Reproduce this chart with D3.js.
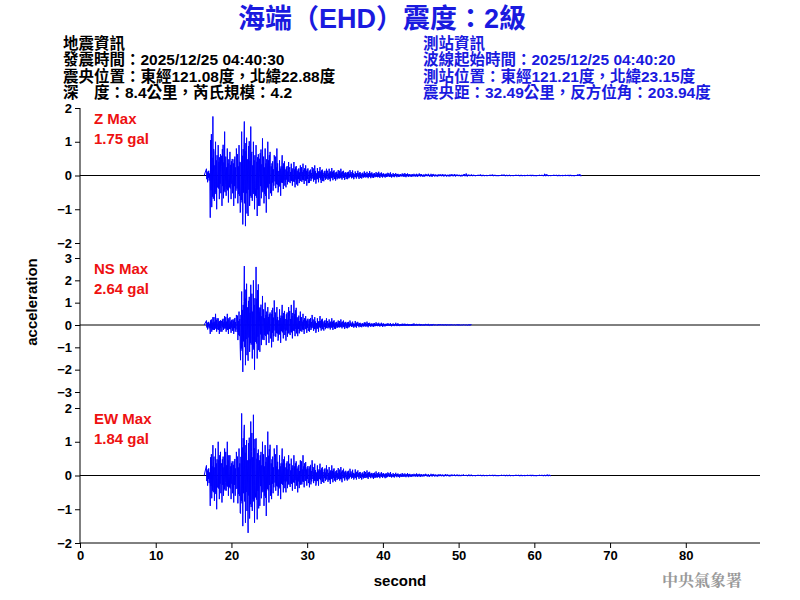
<!DOCTYPE html>
<html>
<head>
<meta charset="utf-8">
<script src="https://cdn.jsdelivr.net/npm/d3@7"></script>
<style>
  body { margin: 0; background: #fff; }
  text { font-family: Arial, "Liberation Sans", "Noto Sans CJK TC", sans-serif; }
</style>
</head>
<body>
<svg id="chart" width="800" height="600"></svg>
<script>
// peaks per 0.5 s bin, starting at t0 (seconds)
const t0 = 16.7
const binStep = 0.5

const zHi = [0.2,1.75,1.0,0.9,1.3,0.8,0.7,0.8,0.9,1.3,1.6,1.45,1.0,0.9,1.1,0.8,1.0,0.6,0.8,0.45,0.6,0.4,0.35,0.4,0.3,0.35,0.3,0.25,0.3,0.22,0.25,0.2,0.2,0.22,0.16,0.2,0.14,0.16,0.15,0.12,0.14,0.12,0.11,0.13,0.1,0.11,0.09,0.08,0.09,0.07,0.07,0.06,0.07,0.06,0.05,0.05,0.06,0.04,0.05,0.05,0.04,0.04,0.04,0.03,0.04,0.04,0.03,0.03,0.06,0.03,0.03,0.02,0.03,0.02,0.02,0.03,0.02,0.02,0.03,0.02,0.02,0.02,0.02,0.02,0.02,0.02,0.02,0.02,0.02,0.05,0.02,0.02,0.02,0.02,0.02,0.02,0.02,0.02,0.04]
const zLo = [-0.2,-1.25,-1.0,-0.7,-0.9,-0.8,-0.7,-0.9,-1.1,-1.45,-1.5,-1.2,-1.0,-1.2,-0.9,-1.1,-0.7,-0.6,-0.5,-0.6,-0.4,-0.35,-0.3,-0.35,-0.3,-0.25,-0.3,-0.22,-0.24,-0.2,-0.22,-0.17,-0.17,-0.14,-0.15,-0.12,-0.13,-0.11,-0.11,-0.09,-0.1,-0.09,-0.08,-0.08,-0.07,-0.07,-0.06,-0.06,-0.06,-0.05,-0.05,-0.04,-0.05,-0.04,-0.04,-0.04,-0.03,-0.04,-0.03,-0.04,-0.03,-0.03,-0.03,-0.03,-0.03,-0.03,-0.02,-0.03,-0.03,-0.02,-0.02,-0.02,-0.02,-0.02,-0.02,-0.02,-0.02,-0.02,-0.02,-0.02,-0.02,-0.02,-0.02,-0.02,-0.02,-0.02,-0.02,-0.02,-0.02,-0.02,-0.02,-0.02,-0.02,-0.02,-0.02,-0.02,-0.02,-0.02,-0.02]

const nsHi = [0.2,0.35,0.5,0.3,0.4,0.5,0.35,0.45,0.6,1.5,2.64,1.8,2.0,2.6,1.3,1.0,0.8,1.1,0.8,0.7,0.9,0.8,0.9,1.1,0.6,0.5,0.4,0.45,0.35,0.3,0.4,0.3,0.25,0.3,0.2,0.25,0.2,0.2,0.15,0.18,0.14,0.12,0.15,0.1,0.12,0.1,0.1,0.08,0.08,0.07,0.1,0.06,0.06,0.05,0.07,0.05,0.05,0.04,0.05,0.04,0.03,0.04,0.03,0.03,0.03,0.02,0.03,0.02,0.02,0.03]
const nsLo = [-0.2,-0.4,-0.3,-0.4,-0.3,-0.4,-0.35,-0.4,-0.9,-2.1,-1.8,-1.6,-2.0,-1.5,-1.2,-0.9,-0.8,-1.0,-0.7,-0.8,-0.6,-0.7,-0.6,-0.5,-0.5,-0.4,-0.35,-0.3,-0.35,-0.3,-0.25,-0.25,-0.2,-0.22,-0.18,-0.15,-0.18,-0.15,-0.12,-0.12,-0.1,-0.1,-0.1,-0.08,-0.08,-0.07,-0.08,-0.06,-0.06,-0.05,-0.05,-0.05,-0.04,-0.04,-0.04,-0.03,-0.03,-0.03,-0.03,-0.03,-0.02,-0.02,-0.02,-0.02,-0.02,-0.02,-0.02,-0.02,-0.02,-0.02]

const ewHi = [0.3,0.9,0.8,1.0,0.8,1.0,0.6,0.7,0.8,1.84,1.5,1.6,1.8,1.1,1.0,0.9,1.3,0.8,0.9,0.6,0.8,0.6,0.5,0.6,0.45,0.6,0.4,0.45,0.35,0.3,0.35,0.3,0.25,0.3,0.22,0.25,0.2,0.2,0.17,0.18,0.15,0.13,0.15,0.11,0.12,0.1,0.1,0.09,0.1,0.07,0.08,0.07,0.06,0.07,0.05,0.06,0.05,0.05,0.04,0.05,0.04,0.04,0.03,0.04,0.03,0.03,0.03,0.03,0.02,0.03,0.02,0.02,0.02,0.02,0.02,0.02,0.02,0.02,0.02,0.02,0.02,0.02,0.02,0.02,0.02,0.02,0.02,0.02,0.02,0.02,0.03]
const ewLo = [-0.3,-0.9,-1.0,-0.7,-0.8,-0.6,-0.7,-0.8,-1.1,-1.5,-1.4,-1.7,-1.4,-1.3,-0.9,-1.2,-0.8,-0.7,-0.6,-0.7,-0.5,-0.5,-0.45,-0.4,-0.5,-0.35,-0.3,-0.35,-0.3,-0.3,-0.25,-0.22,-0.25,-0.2,-0.18,-0.2,-0.15,-0.15,-0.12,-0.12,-0.1,-0.12,-0.1,-0.08,-0.1,-0.08,-0.07,-0.08,-0.06,-0.06,-0.05,-0.06,-0.05,-0.05,-0.04,-0.04,-0.04,-0.03,-0.04,-0.03,-0.03,-0.03,-0.03,-0.02,-0.03,-0.02,-0.02,-0.02,-0.02,-0.02,-0.02,-0.02,-0.02,-0.02,-0.02,-0.02,-0.02,-0.02,-0.02,-0.02,-0.02,-0.02,-0.02,-0.02,-0.02,-0.02,-0.02,-0.02,-0.02,-0.02,-0.02]

// fixed texture of swings inside one bin (fractions of the bin's peak)
const swing = [1, -0.55, 0.45, -1, 0.6, -0.35, 0.7, -0.75, 0.3, -0.5]

const channels = [
  { name: 'Z', max: '1.75 gal', hi: zHi, lo: zLo, lim: 2, top: 108, bottom: 243 },
  { name: 'NS', max: '2.64 gal', hi: nsHi, lo: nsLo, lim: 3, top: 258, bottom: 392 },
  { name: 'EW', max: '1.84 gal', hi: ewHi, lo: ewLo, lim: 2, top: 408, bottom: 543 }
]
const xTicks = [0, 10, 20, 30, 40, 50, 60, 70, 80]
const tMax = 89.8

const quakeInfo = ['地震資訊', '發震時間：2025/12/25 04:40:30', '震央位置：東經121.08度，北緯22.88度', '深　度：8.4公里，芮氏規模：4.2']
const stationInfo = ['測站資訊', '波線起始時間：2025/12/25 04:40:20', '測站位置：東經121.21度，北緯23.15度', '震央距：32.49公里，反方位角：203.94度']

const svg = d3.select('#chart')
const left = 80, right = 760

const x = d3.scaleLinear().domain([0, tMax]).range([left, right])

// title
svg.append('text')
  .attr('x', 382).attr('y', 28)
  .attr('text-anchor', 'middle')
  .attr('fill', '#1a1adf')
  .style('font-size', '27px').style('font-weight', 'bold')
  .text('海端（EHD）震度：2級')

quakeInfo.forEach((s, i) => {
  svg.append('text').attr('x', 63).attr('y', 49 + i * 16.3)
    .style('font-size', '15.5px').style('font-weight', 'bold')
    .attr('fill', '#000').text(s)
})
stationInfo.forEach((s, i) => {
  svg.append('text').attr('x', 423).attr('y', 49 + i * 16.3)
    .style('font-size', '15.5px').style('font-weight', 'bold')
    .attr('fill', '#1a1adf').text(s)
})

// left axis line
svg.append('line').attr('x1', left).attr('x2', left).attr('y1', 108).attr('y2', 543)
  .attr('stroke', '#000')

channels.forEach(ch => {
  const y = d3.scaleLinear().domain([-ch.lim, ch.lim]).range([ch.bottom, ch.top])

  const ticks = d3.range(-ch.lim, ch.lim + 1)
  const g = svg.append('g').attr('transform', `translate(${left},0)`)
    .call(d3.axisLeft(y).tickValues(ticks).tickSize(5).tickFormat(d3.format('d')))
  g.select('.domain').remove()
  g.selectAll('text').style('font-size', '13px').style('font-weight', 'bold').attr('fill', '#000')

  // zero line
  svg.append('line').attr('x1', left).attr('x2', right)
    .attr('y1', y(0)).attr('y2', y(0)).attr('stroke', '#000').attr('stroke-width', 1)

  // trace: bin peaks with a fixed swing texture
  const pts = [[t0 - 0.3, 0]]
  ch.hi.forEach((h, i) => {
    const lo = ch.lo[i] !== undefined ? ch.lo[i] : -h
    const off = (i * 3) % swing.length
    for (let k = 0; k < swing.length; k++) {
      const s = swing[(k + off) % swing.length]
      pts.push([t0 + i * binStep + k * binStep / swing.length, s > 0 ? s * h : -s * lo])
    }
  })
  pts.push([t0 + ch.hi.length * binStep, 0])
  svg.append('path')
    .attr('d', d3.line().x(d => x(d[0])).y(d => y(d[1]))(pts))
    .attr('fill', 'none').attr('stroke', '#0000ff').attr('stroke-width', 1)

  svg.append('text').attr('x', 94).attr('y', ch.top + 16)
    .attr('fill', '#ee1111').style('font-size', '15px').style('font-weight', 'bold').text(ch.name + ' Max')
  svg.append('text').attr('x', 94).attr('y', ch.top + 36)
    .attr('fill', '#ee1111').style('font-size', '15px').style('font-weight', 'bold').text(ch.max)
})

// bottom axis
const xa = svg.append('g').attr('transform', 'translate(0,543)')
  .call(d3.axisBottom(x).tickValues(xTicks).tickSize(5).tickFormat(d3.format('d')))
xa.select('.domain').attr('d', `M${left},0H${right}`)
xa.selectAll('text').style('font-size', '13px').style('font-weight', 'bold').attr('fill', '#000')

svg.append('text').attr('x', 400).attr('y', 586).attr('text-anchor', 'middle')
  .style('font-size', '15px').style('font-weight', 'bold').text('second')
svg.append('text').attr('transform', 'translate(37,302) rotate(-90)').attr('text-anchor', 'middle')
  .style('font-size', '15px').style('font-weight', 'bold').text('acceleration')

svg.append('text').attr('x', 702).attr('y', 586).attr('text-anchor', 'middle')
  .attr('fill', '#999').style('font-size', '16px').style('font-weight', 'bold')
  .style('font-family', '"Noto Serif CJK TC", "Noto Sans CJK TC", serif').text('中央氣象署')
</script>
</body>
</html>
